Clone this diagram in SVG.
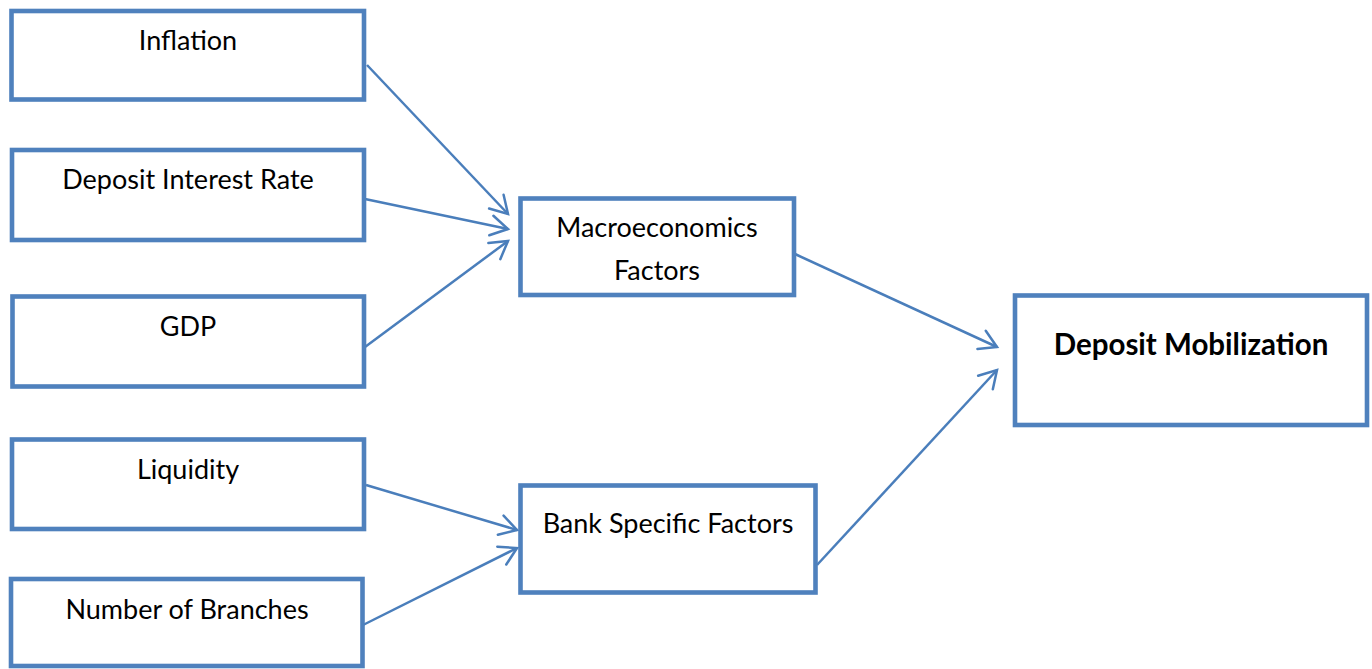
<svg xmlns="http://www.w3.org/2000/svg" width="1372" height="669" viewBox="0 0 1372 669">
  <style>
    .box { fill: #ffffff; stroke: #4F81BD; stroke-width: 4.6; }
    .lbl { font-family: Lato, "Open Sans", "Liberation Sans", sans-serif; font-size: 27px; fill: #000000; text-anchor: middle; }
    .bold { font-weight: bold; font-size: 29.5px; }
    .edge { fill: none; stroke: #4A7EBB; stroke-width: 2.5; }
  </style>
  <defs>
    <marker id="arrow" markerUnits="userSpaceOnUse" viewBox="-22 -14 26 28" refX="0" refY="0" markerWidth="26" markerHeight="28" orient="auto">
      <path d="M-17,-10 L0,0 L-17,10" fill="none" stroke="#4A7EBB" stroke-width="2.5" stroke-linejoin="miter" stroke-linecap="round"/>
    </marker>
  </defs>
  <rect width="1372" height="669" fill="#ffffff"/>

  <g id="connectors">
    <line class="edge" x1="367" y1="65" x2="508" y2="214" marker-end="url(#arrow)"/>
    <line class="edge" x1="365" y1="199" x2="508" y2="229" marker-end="url(#arrow)"/>
    <line class="edge" x1="365" y1="347" x2="508" y2="241" marker-end="url(#arrow)"/>
    <line class="edge" x1="366" y1="485" x2="517" y2="530" marker-end="url(#arrow)"/>
    <line class="edge" x1="363" y1="625" x2="517" y2="548" marker-end="url(#arrow)"/>
    <line class="edge" x1="795" y1="254" x2="997" y2="347" marker-end="url(#arrow)"/>
    <line class="edge" x1="817" y1="565" x2="997" y2="370" marker-end="url(#arrow)"/>
  </g>

  <g id="inflation">
    <rect class="box" x="11.5" y="11" width="352.5" height="88.5"/>
    <text class="lbl" x="188" y="50">Inflation</text>
  </g>
  <g id="deposit-interest-rate">
    <rect class="box" x="12" y="150" width="352" height="90"/>
    <text class="lbl" x="188" y="189">Deposit Interest Rate</text>
  </g>
  <g id="gdp">
    <rect class="box" x="12.5" y="296.5" width="351.5" height="90"/>
    <text class="lbl" x="188" y="336">GDP</text>
  </g>
  <g id="liquidity">
    <rect class="box" x="12" y="439.5" width="352" height="89.5"/>
    <text class="lbl" x="188" y="479">Liquidity</text>
  </g>
  <g id="number-of-branches">
    <rect class="box" x="11" y="579" width="351.5" height="87"/>
    <text class="lbl" x="187" y="619">Number of Branches</text>
  </g>
  <g id="macroeconomics-factors">
    <rect class="box" x="520.5" y="198.5" width="273.5" height="96.5"/>
    <text class="lbl" x="657" y="237">Macroeconomics</text>
    <text class="lbl" x="657" y="280">Factors</text>
  </g>
  <g id="bank-specific-factors">
    <rect class="box" x="520.5" y="485.5" width="295" height="107"/>
    <text class="lbl" x="668" y="533">Bank Specific Factors</text>
  </g>
  <g id="deposit-mobilization">
    <rect class="box" x="1015" y="295.5" width="352" height="129.5"/>
    <text class="lbl bold" x="1191" y="355">Deposit Mobilization</text>
  </g>
</svg>
